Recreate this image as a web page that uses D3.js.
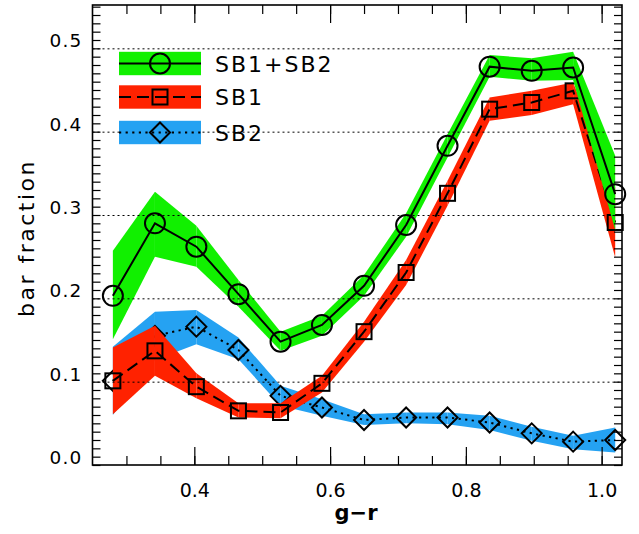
<!DOCTYPE html>
<html><head><meta charset="utf-8">
<script src="https://cdn.jsdelivr.net/npm/d3@7"></script>
<style>body{margin:0;background:#fff}svg{display:block}text{font-family:"DejaVu Sans",sans-serif;fill:#000}</style>
</head><body><svg id="c" width="639" height="534"></svg>
<script>
// g-r bin centres
const gr = [0.280, 0.342, 0.403, 0.465, 0.527, 0.588, 0.650, 0.712, 0.773, 0.835, 0.897, 0.958, 1.020];
// SB1+SB2
const all   = [0.203, 0.290, 0.262, 0.205, 0.148, 0.168, 0.215, 0.288, 0.383, 0.478, 0.473, 0.477, 0.325];
const allHi = [0.257, 0.328, 0.287, 0.222, 0.160, 0.179, 0.228, 0.302, 0.397, 0.492, 0.488, 0.496, 0.371];
const allLo = [0.151, 0.250, 0.238, 0.190, 0.137, 0.155, 0.203, 0.274, 0.369, 0.466, 0.461, 0.462, 0.282];
// SB1
const sb1   = [0.101, 0.137, 0.094, 0.065, 0.063, 0.098, 0.160, 0.231, 0.326, 0.427, 0.435, 0.449, 0.291];
const sb1Hi = [0.141, 0.167, 0.110, 0.074, 0.074, 0.107, 0.172, 0.246, 0.341, 0.441, 0.449, 0.459, 0.333];
const sb1Lo = [0.061, 0.107, 0.080, 0.057, 0.056, 0.087, 0.148, 0.216, 0.311, 0.413, 0.420, 0.433, 0.249];
// SB2
const sb2   = [0.101, 0.155, 0.166, 0.138, 0.083, 0.069, 0.054, 0.057, 0.057, 0.051, 0.038, 0.028, 0.030];
const sb2Hi = [0.142, 0.184, 0.186, 0.153, 0.095, 0.079, 0.061, 0.063, 0.063, 0.059, 0.046, 0.035, 0.045];
const sb2Lo = [0.060, 0.126, 0.145, 0.127, 0.071, 0.059, 0.048, 0.050, 0.049, 0.042, 0.029, 0.019, 0.015];

const seriesNames = ["SB1+SB2", "SB1", "SB2"];
const xMajor = [0.4, 0.6, 0.8, 1.0];
const yMajor = [0.0, 0.1, 0.2, 0.3, 0.4, 0.5];

const svg = d3.select("#c");
const L = 92.5, R = 622, T = 5, B = 465;
const x = d3.scaleLinear().domain([0.25, 1.03]).range([L, R]);
const y = d3.scaleLinear().domain([0, 0.552]).range([B, T]);

const cfg = [
  {name: seriesNames[2], v: sb2, hi: sb2Hi, lo: sb2Lo, fill: "#25a2f2", dash: "2.2,4.4", marker: "diamond"},
  {name: seriesNames[1], v: sb1, hi: sb1Hi, lo: sb1Lo, fill: "#ff2200", dash: "12,6", marker: "square"},
  {name: seriesNames[0], v: all, hi: allHi, lo: allLo, fill: "#11f000", dash: null, marker: "circle"}
];

function drawMarker(g, type, cx, cy) {
  if (type === "circle") g.append("circle").attr("cx", cx).attr("cy", cy).attr("r", 10);
  else if (type === "square") g.append("rect").attr("x", cx - 7.5).attr("y", cy - 7.5).attr("width", 15).attr("height", 15);
  else g.append("path").attr("d", `M${cx},${cy-10}L${cx+10},${cy}L${cx},${cy+10}L${cx-10},${cy}Z`);
}

const plot = svg.append("g");
cfg.forEach(s => {
  for (let i = 0; i < gr.length - 1; i++) {
    const pts = [[x(gr[i]), y(s.hi[i])], [x(gr[i+1]), y(s.hi[i+1])], [x(gr[i+1]), y(s.lo[i+1])], [x(gr[i]), y(s.lo[i])]];
    plot.append("path").attr("d", "M" + pts.join("L") + "Z").attr("fill", s.fill);
  }
  const line = d3.line().x((d, i) => x(gr[i])).y(d => y(d));
  const p = plot.append("path").attr("d", line(s.v)).attr("fill", "none").attr("stroke", "#000").attr("stroke-width", 2);
  if (s.dash) p.attr("stroke-dasharray", s.dash);
  const mg = plot.append("g").attr("fill", "none").attr("stroke", "#000").attr("stroke-width", 2);
  s.v.forEach((d, i) => drawMarker(mg, s.marker, x(gr[i]), y(d)));
});

function tickStyle(g, w) {
  g.select(".domain").remove();
  g.selectAll(".tick line").attr("stroke", "#000").attr("stroke-width", w);
}

// grid (dotted) at major y
svg.append("g").attr("transform", `translate(${L},0)`)
  .call(d3.axisLeft(y).tickValues(yMajor.slice(1)).tickSize(-(R - L)).tickFormat(""))
  .call(g => tickStyle(g, 1))
  .selectAll(".tick line").attr("stroke-dasharray", "2,3");

// minor ticks
const yMinor = d3.range(0, 56).map(i => i / 100);
svg.append("g").attr("transform", `translate(${L},0)`)
  .call(d3.axisLeft(y).tickValues(yMinor).tickSize(-8).tickFormat("")).call(g => tickStyle(g, 1.2));
svg.append("g").attr("transform", `translate(${R},0)`)
  .call(d3.axisRight(y).tickValues(yMinor).tickSize(-8).tickFormat("")).call(g => tickStyle(g, 1.2));
const xMinor = d3.range(6, 21).map(i => i * 0.05);
svg.append("g").attr("transform", `translate(0,${B})`)
  .call(d3.axisBottom(x).tickValues(xMinor).tickSize(-9).tickFormat("")).call(g => tickStyle(g, 1.2));
svg.append("g").attr("transform", `translate(0,${T})`)
  .call(d3.axisTop(x).tickValues(xMinor).tickSize(-9).tickFormat("")).call(g => tickStyle(g, 1.2));
svg.append("g").attr("transform", `translate(0,${T})`)
  .call(d3.axisTop(x).tickValues(xMajor).tickSize(-18).tickFormat("")).call(g => tickStyle(g, 1.2));
// labelled axes
svg.append("g").attr("transform", `translate(0,${B})`)
  .call(d3.axisBottom(x).tickValues(xMajor).tickSize(-18).tickPadding(19).tickFormat(d3.format(".1f")))
  .call(g => tickStyle(g, 1.2))
  .call(g => g.selectAll("text").attr("font-size", 19).attr("font-family", "DejaVu Sans"));
svg.append("g").attr("transform", `translate(${L},0)`)
  .call(d3.axisLeft(y).tickValues(yMajor).tickSize(0).tickPadding(10).tickFormat(d3.format(".1f")))
  .call(g => tickStyle(g, 0))
  .call(g => g.selectAll("text").attr("font-size", 18.5).attr("font-family", "DejaVu Sans").attr("dy", "-1.5").attr("letter-spacing", 1.2));

// frame
svg.append("rect").attr("x", L).attr("y", T).attr("width", R - L).attr("height", B - T)
  .attr("fill", "none").attr("stroke", "#000").attr("stroke-width", 1.6);

// legend
const leg = svg.append("g");
const legY = [63.5, 97, 132.5];
[cfg[2], cfg[1], cfg[0]].forEach((s, i) => {
  const cy = legY[i];
  leg.append("rect").attr("x", 119).attr("y", cy - 11.7).attr("width", 82).attr("height", 23.4).attr("fill", s.fill);
  const l = leg.append("line").attr("x1", 119).attr("x2", 201).attr("y1", cy).attr("y2", cy).attr("stroke", "#000").attr("stroke-width", 2);
  if (s.dash) l.attr("stroke-dasharray", s.dash);
  const mg = leg.append("g").attr("fill", "none").attr("stroke", "#000").attr("stroke-width", 2);
  drawMarker(mg, s.marker, 160, cy);
  leg.append("text").attr("x", 215).attr("y", cy + 8).attr("font-size", 22).attr("letter-spacing", 2).text(s.name);
});

// axis titles
svg.append("text").attr("x", 356).attr("y", 520).attr("text-anchor", "middle").attr("font-size", 21).attr("font-weight", "bold").text("g\u2212r");
svg.append("text").attr("transform", "translate(34,238) rotate(-90)").attr("text-anchor", "middle").attr("font-size", 22).attr("letter-spacing", 2.5).text("bar fraction");
</script></body></html>
